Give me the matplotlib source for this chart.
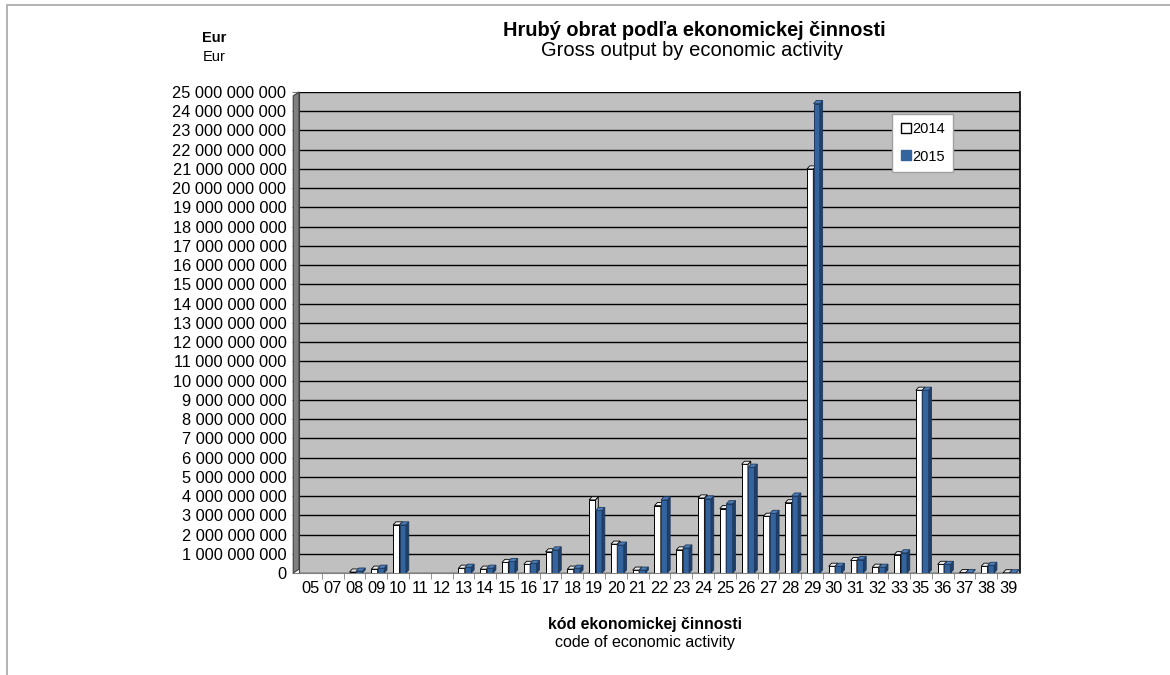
import numpy as np
import matplotlib
matplotlib.use("Agg")
import matplotlib.pyplot as plt
from matplotlib.patches import Polygon, Rectangle
from matplotlib.lines import Line2D

plt.rcParams['font.family'] = ['Liberation Sans', 'DejaVu Sans']

# kódy ekonomickej činnosti
codes = ['05', '07', '08', '09', '10', '11', '12', '13', '14', '15', '16', '17',
         '18', '19', '20', '21', '22', '23', '24', '25', '26', '27', '28', '29',
         '30', '31', '32', '33', '35', '36', '37', '38', '39']
# hrubý obrat v mld. Eur (odčítané z grafu)
v2014 = [0.0, 0.0, 0.05, 0.2, 2.5, 0.0, 0.0, 0.25, 0.2, 0.55, 0.45, 1.1,
         0.2, 3.8, 1.5, 0.15, 3.5, 1.2, 3.9, 3.35, 5.65, 2.95, 3.65, 21.0,
         0.35, 0.65, 0.3, 0.95, 9.5, 0.45, 0.02, 0.35, 0.01]
v2015 = [0.0, 0.0, 0.1, 0.25, 2.5, 0.0, 0.0, 0.3, 0.25, 0.6, 0.5, 1.2,
         0.25, 3.25, 1.45, 0.15, 3.8, 1.3, 3.85, 3.6, 5.5, 3.1, 4.0, 24.4,
         0.35, 0.7, 0.3, 1.05, 9.5, 0.45, 0.02, 0.4, 0.01]
years = ['2014', '2015']

y14 = np.array(v2014) * 1e9
y15 = np.array(v2015) * 1e9
x = np.arange(len(codes))

fig = plt.figure(figsize=(11.7, 6.75), dpi=100)
W, H = 1170, 675
ax = fig.add_axes([299 / W, (H - 573) / H, (1020 - 299) / W, (573 - 92) / H])
ax.set_facecolor('#C0C0C0')
ax.set_xlim(-0.55, len(codes) - 0.45)
ax.set_ylim(0, 25e9)

# mriežka
ax.set_yticks(np.arange(0, 26e9, 1e9))
ax.yaxis.grid(True, color='black', lw=1.0)
ax.set_axisbelow(True)
ax.set_yticklabels([f'{int(v):,}'.replace(',', ' ') for v in ax.get_yticks()], fontsize=11.8)

ax.set_xticks(x)
ax.set_xticklabels(codes, fontsize=11.8)
ax.set_xticks(x[:-1] + 0.5, minor=True)
ax.tick_params(axis='x', which='major', length=0, pad=6)
ax.tick_params(axis='x', which='minor', length=4, color='#808080')
ax.tick_params(axis='y', length=5, color='#808080', pad=4)

ax.spines['top'].set_visible(False)
ax.spines['left'].set_color('#404040')
ax.spines['right'].set_color('black')
ax.spines['right'].set_linewidth(1.2)
ax.spines['bottom'].set_color('#808080')

# ľavá stena (3D efekt)
wall = Polygon([(-0.008, 0.0), (0.0, 0.008), (0.0, 1.0), (-0.008, 0.992)],
               closed=True, transform=ax.transAxes, facecolor='#808080',
               edgecolor='#404040', lw=0.8, clip_on=False, zorder=1)
ax.add_patch(wall)

# stĺpce s jednoduchým 3D efektom
bw = 0.29
dx = 0.13
dy = 0.16e9
styles = [
    dict(front='white', side='#BFBFBF', top='#EDEDED', edge='black', off=-0.23),
    dict(front='#33649E', side='#213F66', top='#4E7DB8', edge='#1F3A5E', off=0.07),
]
for series, st in zip([y14, y15], styles):
    m = series > 0
    ax.bar(x[m] + st['off'], series[m], width=bw, align='edge', color=st['front'],
           edgecolor=st['edge'], lw=0.7, zorder=3)
    for xi, h in zip(x[m] + st['off'], series[m]):
        side = Polygon([(xi + bw, 0), (xi + bw + dx, dy), (xi + bw + dx, h + dy), (xi + bw, h)],
                       closed=True, facecolor=st['side'], edgecolor=st['edge'], lw=0.6, zorder=3)
        top = Polygon([(xi, h), (xi + dx, h + dy), (xi + bw + dx, h + dy), (xi + bw, h)],
                      closed=True, facecolor=st['top'], edgecolor=st['edge'], lw=0.6, zorder=3)
        ax.add_patch(side)
        ax.add_patch(top)

# legenda
handles = [Line2D([], [], ls='none', marker='s', markersize=7, markerfacecolor='white',
                  markeredgecolor='black', markeredgewidth=1),
           Line2D([], [], ls='none', marker='s', markersize=7, markerfacecolor='#33649E',
                  markeredgecolor='#33649E')]
ax.legend(handles, years, loc='upper left', bbox_to_anchor=(0.822, 0.955), fontsize=10.5,
          frameon=True, fancybox=False, edgecolor='#A0A0A0', framealpha=1,
          handlelength=0.7, handletextpad=0.1, labelspacing=0.9, borderpad=0.6,
          borderaxespad=0)

# texty
fig.text(694 / W, 1 - 30 / H, 'Hrubý obrat podľa ekonomickej činnosti', ha='center',
         va='center', fontsize=14.4, fontweight='bold')
fig.text(692 / W, 1 - 50 / H, 'Gross output by economic activity', ha='center',
         va='center', fontsize=14.5)
fig.text(214 / W, 1 - 38 / H, 'Eur', ha='center', va='center', fontsize=10.5,
         fontweight='bold')
fig.text(214 / W, 1 - 57 / H, 'Eur', ha='center', va='center', fontsize=10.5)
fig.text(645 / W, 1 - 625 / H, 'kód ekonomickej činnosti', ha='center', va='center',
         fontsize=11.4, fontweight='bold')
fig.text(645 / W, 1 - 643 / H, 'code of economic activity', ha='center', va='center',
         fontsize=11.6)

# vonkajší rámik
fig.patches.append(Rectangle((7 / W, -0.01), 1.02, 1 - 5 / H + 0.01, transform=fig.transFigure,
                             fill=False, edgecolor='#A6A6A6', lw=1.2))

fig.savefig('out.png', dpi=100)
